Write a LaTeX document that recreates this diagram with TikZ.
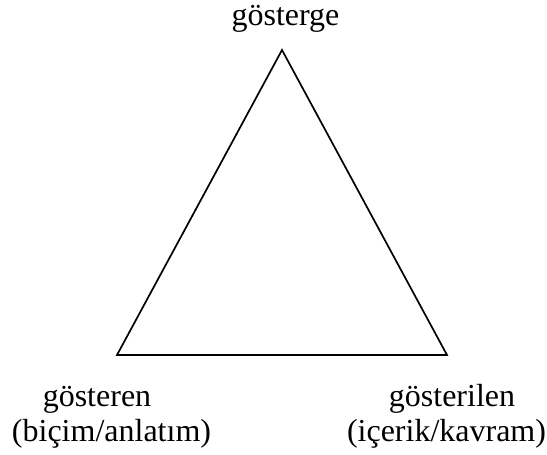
\documentclass[tikz,border=0pt]{standalone}
\usepackage{fontspec}
\setmainfont{Liberation Serif}
\begin{document}
\begin{tikzpicture}[x=1pt,y=1pt,
  lbl/.style={anchor=base,inner sep=0pt,font=\fontsize{32}{38}\selectfont},
  tri/.style={line width=1.7pt,line join=miter}]
\useasboundingbox (0,0) rectangle (547,455);
\coordinate (top) at (282,405);
\coordinate (bl) at (117,100);
\coordinate (br) at (447,100);
\draw[tri] (top) -- (bl) -- (br) -- cycle;
\node[lbl] (sign) at (285.5,429) {gösterge};
\node[lbl] (sgr) at (97,48) {gösteren};
\node[lbl] (sgr2) at (111.5,13) {(biçim/anlatım)};
\node[lbl] (sgd) at (452,48) {gösterilen};
\node[lbl] (sgd2) at (446.5,13) {(içerik/kavram)};
\end{tikzpicture}
\end{document}
